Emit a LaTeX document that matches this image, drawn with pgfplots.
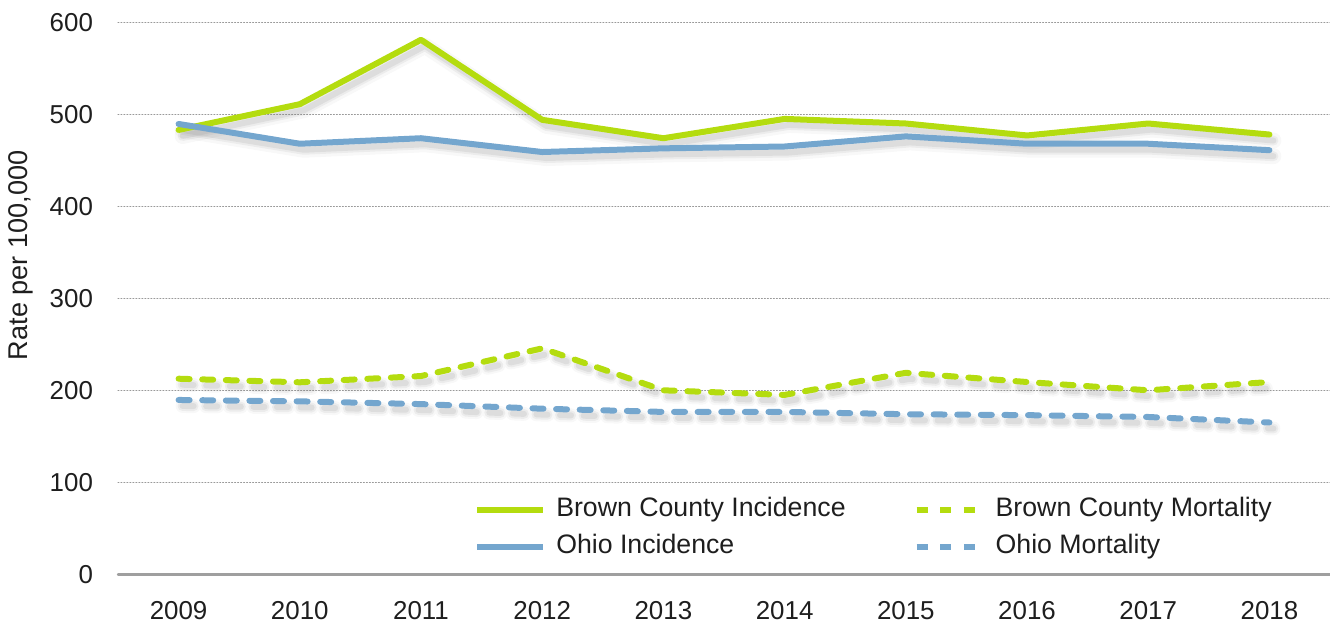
\documentclass[border=0pt]{standalone}
\usepackage{pgfplots}
\pgfplotsset{compat=1.18}
\usepackage{fontspec}
\setmainfont{Liberation Sans}
\definecolor{bgreen}{RGB}{180,220,15}
\definecolor{oblue}{RGB}{116,166,206}
\definecolor{txt}{RGB}{30,30,30}
\pgfplotstableread{
x bi bm oi om
0 483 212.6 489.5 189.5
1 511 208.7 468 188
2 581 215.5 474 185
3 494 245.6 459 180
4 474 200 463 176.5
5 495 195 465 176.5
6 490 219 476 174
7 477 209 468 173
8 490 200 468 171
9 478 209 461 165
}\data
\begin{document}
\begin{tikzpicture}
\begin{axis}[
  at={(0,0)}, anchor=south west,
  scale only axis, width=606bp, height=276bp,
  xmin=-0.5, xmax=9.5, ymin=0, ymax=600,
  xtick={0,...,9},
  xticklabels={2009,2010,2011,2012,2013,2014,2015,2016,2017,2018},
  ytick={0,100,...,600},
  major tick length=0pt,
  axis x line*=bottom, axis y line*=left,
  x axis line style={draw=gray!75, line width=1.2bp},
  y axis line style={draw=none},
  ymajorgrids, grid style={gray!80, line width=0.5bp, densely dotted},
  tick label style={font=\fontsize{13}{15}\selectfont, text=txt},
  /pgf/number format/assume math mode=true,
  /pgf/number format/1000 sep={},
  yticklabel style={xshift=-9bp},
  xticklabel style={yshift=-10bp},
  ylabel={Rate per 100,000},
  ylabel style={font=\fontsize{13.6}{15}\selectfont, text=txt, at={(rel axis cs:0,0.5)}, anchor=center, xshift=21.5bp, yshift=48.5bp},
  legend columns=2,
  legend style={draw=none, fill=none, at={(rel axis cs:0.2887,0.083)}, anchor=west,
    font=\fontsize{13.4}{15}\selectfont, text=txt,
    nodes={inner sep=0pt, text height=9.5bp, text depth=3bp},
    row sep=6bp,
    /tikz/every even column/.append style={column sep=34bp},
    /tikz/every odd column/.append style={column sep=5bp}},
  legend cell align=left,
  legend image code/.code={\draw[#1] (1.5bp,0bp) -- (34.5bp,0bp);},
  line join=round, line cap=round,
  shadow/.style={forget plot, gray, xshift=2bp, yshift=-3bp},
]
% shadows
\foreach \c in {bi,oi}{
  \addplot[shadow, opacity=0.06, line width=8bp] table[x=x, y=\c] {\data};
  \addplot[shadow, opacity=0.10, line width=5bp] table[x=x, y=\c] {\data};
  \addplot[shadow, opacity=0.14, line width=3bp] table[x=x, y=\c] {\data};
}
\foreach \c in {bm,om}{
  \addplot[shadow, opacity=0.06, line width=7bp, dash pattern=on 5.5bp off 6.3bp] table[x=x, y=\c] {\data};
  \addplot[shadow, opacity=0.10, line width=5bp, dash pattern=on 5.5bp off 6.3bp] table[x=x, y=\c] {\data};
  \addplot[shadow, opacity=0.14, line width=3bp, dash pattern=on 5.5bp off 6.3bp] table[x=x, y=\c] {\data};
}
% main series
\addplot[bgreen, line width=3bp] table[x=x, y=bi] {\data};
\addlegendentry{Brown County Incidence}
\addplot[bgreen, line width=3bp, dash pattern=on 5.5bp off 6.3bp] table[x=x, y=bm] {\data};
\addlegendentry{Brown County Mortality}
\addplot[oblue, line width=3bp] table[x=x, y=oi] {\data};
\addlegendentry{Ohio Incidence}
\addplot[oblue, line width=3bp, dash pattern=on 5.5bp off 6.3bp] table[x=x, y=om] {\data};
\addlegendentry{Ohio Mortality}
\end{axis}
\pgfresetboundingbox
\path[use as bounding box] (-59bp,-25.35bp) rectangle (606bp,287.15bp);
\end{tikzpicture}
\end{document}
